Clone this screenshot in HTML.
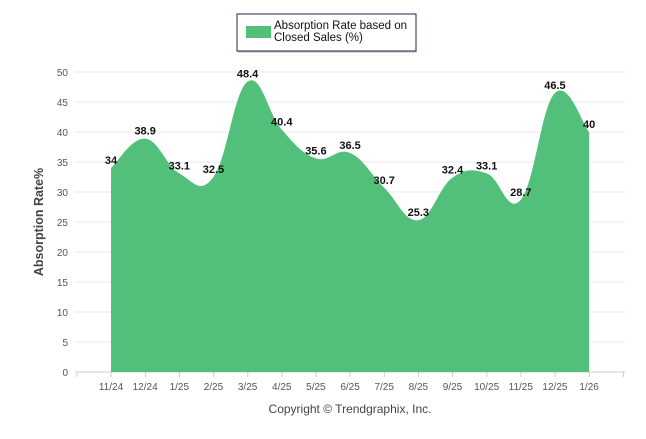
<!DOCTYPE html>
<html><head><meta charset="utf-8"><style>
body{margin:0;background:#fff;font-family:"Liberation Sans",sans-serif}
</style></head><body>
<svg width="646" height="434" xmlns="http://www.w3.org/2000/svg">
<rect x="237" y="14" width="179" height="37" fill="#fff" stroke="#1f2a4a" stroke-width="1"/>
<line x1="238" y1="52" x2="417" y2="52" stroke="#bbb"/>
<rect x="246" y="26" width="25" height="12" fill="#52c07a"/>
<text x="274" y="29" font-size="11.5" fill="#111">Absorption Rate based on</text>
<text x="274" y="41" font-size="11.5" fill="#111">Closed Sales (%)</text>
<g id="grid"></g>
<path id="area" fill="#52c07a"/>
<g id="labels"></g>
<text transform="translate(43,222) rotate(-90)" text-anchor="middle" font-size="12.5" font-weight="bold" fill="#444">Absorption Rate%</text>
<text x="350" y="413" text-anchor="middle" font-size="12" fill="#444">Copyright © Trendgraphix, Inc.</text>
</svg>
<script>
const categories=["11/24","12/24","1/25","2/25","3/25","4/25","5/25","6/25","7/25","8/25","9/25","10/25","11/25","12/25","1/26"];
const values=[34,38.9,33.1,32.5,48.4,40.4,35.6,36.5,30.7,25.3,32.4,33.1,28.7,46.5,40];
const yTicks=[0,5,10,15,20,25,30,35,40,45,50];
const NS="http://www.w3.org/2000/svg";
const x=i=>111+i*34.15, y=v=>372-v*6;
const g=document.getElementById('grid');
function mk(t,a,p){const e=document.createElementNS(NS,t);for(const k in a)e.setAttribute(k,a[k]);p.appendChild(e);return e;}
yTicks.forEach(t=>{
 const l=mk('line',{x1:75,x2:625,y1:y(t),y2:y(t),stroke:t===0?'#ccc':'#e8e8e8'},g);
 
 
 const tx=mk('text',{x:68,y:y(t)+4,'text-anchor':'end','font-size':'10',fill:'#555'},g);
 tx.textContent=t;
 
 
});
for(let i=0;i<=16;i++){mk('line',{x1:77+i*34.15,x2:77+i*34.15,y1:372,y2:377,stroke:'#ccc'},g);}
categories.forEach((c,i)=>{
 const tx=mk('text',{x:x(i),y:390,'text-anchor':'middle','font-size':'10',fill:'#555'},g);
 tx.textContent=c;
 
 
});
const pts=values.map((v,i)=>[x(i),y(v)]);
let d=`M${pts[0][0]},${y(0)} L${pts[0][0]},${pts[0][1]}`;
for(let i=0;i<pts.length-1;i++){
 const p0=pts[Math.max(0,i-1)],p1=pts[i],p2=pts[i+1],p3=pts[Math.min(pts.length-1,i+2)];
 const k=0.2;
 d+=` C${p1[0]+(p2[0]-p0[0])*k},${p1[1]+(p2[1]-p0[1])*k} ${p2[0]-(p3[0]-p1[0])*k},${p2[1]-(p3[1]-p1[1])*k} ${p2[0]},${p2[1]}`;
}
d+=` L${pts[pts.length-1][0]},${y(0)} Z`;
document.getElementById('area').setAttribute('d',d);
const lg=document.getElementById('labels');
values.forEach((v,i)=>{
 const tx=mk('text',{x:x(i),y:y(v)-4,'text-anchor':'middle','font-size':'11','font-weight':'bold',fill:'#111'},lg);
 tx.textContent=v;
 
 
});
</script>
</body></html>
